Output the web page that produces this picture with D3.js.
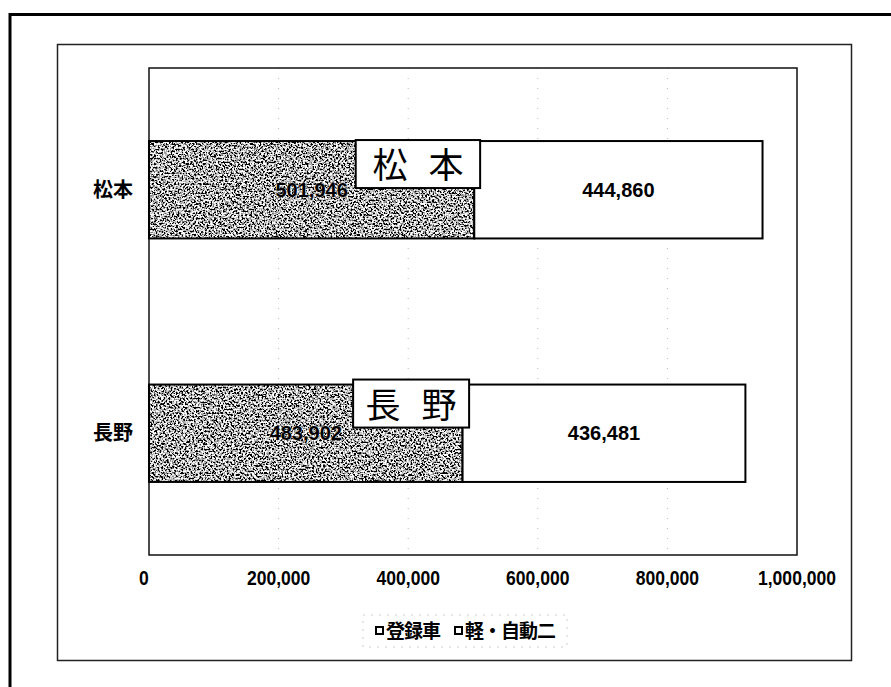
<!DOCTYPE html>
<html><head><meta charset="utf-8">
<script src="https://cdn.jsdelivr.net/npm/d3@7"></script>
<style>
html,body{margin:0;padding:0;background:#fff;}
svg{display:block;}
</style></head>
<body>
<svg id="c" width="891" height="687"></svg>
<script>
// ---- data ----
const categories = ["松本", "長野"];
const seriesNames = ["登録車", "軽・自動二"];
const registered = [501946, 483902];   // 登録車
const kei = [444860, 436481];          // 軽・自動二
const tickValues = [0, 200000, 400000, 600000, 800000, 1000000];
const boxLabels = ["松本", "長野"];
const boxStart = [319000, 315000];
const boxEnd = [511000, 494000];

const svg = d3.select("#c");
const W = 891, H = 687;
const plot = {l:149, r:797, t:68, b:555};

// texture filter
const defs = svg.append("defs");
const f = defs.append("filter").attr("id","noise").attr("x",0).attr("y",0).attr("width",1).attr("height",1);
f.append("feTurbulence").attr("type","fractalNoise").attr("baseFrequency","0.55").attr("numOctaves",2).attr("seed",7).attr("result","t");
f.append("feColorMatrix").attr("in","t").attr("type","matrix")
 .attr("values","4.5 0 0 0 -1.8  4.5 0 0 0 -1.8  4.5 0 0 0 -1.8  0 0 0 0 1").attr("result","g");
f.append("feComposite").attr("in","g").attr("in2","SourceGraphic").attr("operator","in");

// outer frames
svg.append("path").attr("d",`M10,${H} V14.5 H${W}`).attr("fill","none").attr("stroke","#000").attr("stroke-width",3);
svg.append("rect").attr("x",57.5).attr("y",44.5).attr("width",794).attr("height",616)
  .attr("fill","none").attr("stroke","#222").attr("stroke-width",1.5);

const x = d3.scaleLinear().domain([0,1000000]).range([plot.l, plot.r]);
const y = d3.scaleBand().domain(categories).range([plot.t, plot.b]).paddingInner(0.6).paddingOuter(0.3);

// gridlines
svg.append("g").selectAll("line").data(tickValues.slice(1,-1)).join("line")
  .attr("x1",d=>x(d)).attr("x2",d=>x(d)).attr("y1",plot.t).attr("y2",plot.b)
  .attr("stroke","#bbb").attr("stroke-width",1).attr("stroke-dasharray","1,9");

// plot area border
svg.append("rect").attr("x",plot.l).attr("y",plot.t).attr("width",plot.r-plot.l).attr("height",plot.b-plot.t)
  .attr("fill","none").attr("stroke","#111").attr("stroke-width",1.5);

const fmt = d3.format(",");
const rows = categories.map((c,i)=>({c, a:registered[i], b:kei[i], box:boxLabels[i], bs:boxStart[i], be:boxEnd[i]}));

const g = svg.append("g");
// gray segment
g.selectAll("rect.a").data(rows).join("rect").attr("class","a")
  .attr("x",x(0)).attr("y",d=>y(d.c)).attr("width",d=>x(d.a)-x(0)).attr("height",y.bandwidth())
  .attr("fill","#888").attr("filter","url(#noise)");
g.selectAll("rect.ao").data(rows).join("rect").attr("class","ao")
  .attr("x",x(0)).attr("y",d=>y(d.c)).attr("width",d=>x(d.a)-x(0)).attr("height",y.bandwidth())
  .attr("fill","none").attr("stroke","#000").attr("stroke-width",2);
// white segment
g.selectAll("rect.b").data(rows).join("rect").attr("class","b")
  .attr("x",d=>x(d.a)).attr("y",d=>y(d.c)).attr("width",d=>x(d.a+d.b)-x(d.a)).attr("height",y.bandwidth())
  .attr("fill","#fff").attr("stroke","#000").attr("stroke-width",2);

// value labels
const numFont = "'Liberation Sans',Arial,sans-serif";
g.selectAll("text.va").data(rows).join("text")
  .attr("x",d=>(x(0)+x(d.a))/2).attr("y",d=>y(d.c)+y.bandwidth()/2+7)
  .attr("text-anchor","middle").attr("font-family",numFont).attr("font-weight","bold").attr("font-size",20)
  .attr("fill","#000").attr("stroke","#fff").attr("stroke-width",0.6).attr("paint-order","stroke").text(d=>fmt(d.a));
g.selectAll("text.vb").data(rows).join("text")
  .attr("x",d=>(x(d.a)+x(d.a+d.b))/2).attr("y",d=>y(d.c)+y.bandwidth()/2+7)
  .attr("text-anchor","middle").attr("font-family",numFont).attr("font-weight","bold").attr("font-size",20)
  .attr("fill","#000").text(d=>fmt(d.b));

// annotation boxes
const bh = 48;
const boxTop = (d,i)=>y(d.c)-(i?4:0)-1;
g.selectAll("rect.box").data(rows).join("rect")
  .attr("x",d=>x(d.bs)).attr("y",boxTop).attr("width",d=>x(d.be)-x(d.bs)).attr("height",bh)
  .attr("fill","#fff").attr("stroke","#000").attr("stroke-width",2);
rows.forEach((d,i)=>{
  const cx = (x(d.bs)+x(d.be))/2;
  Array.from(d.box).forEach((ch,j)=>{
    g.append("text").attr("x",cx+(j?28:-28)).attr("y",boxTop(d,i)+38)
      .attr("text-anchor","middle").attr("font-family","'Noto Sans CJK JP',sans-serif").attr("font-size",35)
      .attr("fill","#000").text(ch);
  });
});

// category labels
svg.append("g").selectAll("text").data(categories).join("text")
  .attr("x",133).attr("y",d=>y(d)+y.bandwidth()/2+7)
  .attr("text-anchor","end").attr("font-family","'Noto Sans CJK JP',sans-serif").attr("font-weight","bold").attr("font-size",20)
  .text(d=>d);

// x axis labels
svg.append("g").selectAll("text").data(tickValues).join("text")
  .attr("transform",d=>`translate(${x(d)-(d===0?5:0)},585) scale(0.9,1)`)
  .attr("text-anchor","middle").attr("font-family",numFont).attr("font-weight","bold").attr("font-size",19.5)
  .text(d=>fmt(d));

// legend
const lg = svg.append("g");
lg.append("rect").attr("x",363).attr("y",615).attr("width",204).attr("height",32)
  .attr("fill","none").attr("stroke","#ccc").attr("stroke-width",1).attr("stroke-dasharray","2,6");
const lx = [375, 454];
const lgItems = lg.selectAll("g").data(seriesNames).join("g").attr("transform",(d,i)=>`translate(${lx[i]},631)`);
lgItems.append("rect").attr("x",1).attr("y",-4).attr("width",7).attr("height",7).attr("fill","#fff").attr("stroke","#000").attr("stroke-width",2);
lgItems.append("text").attr("x",11).attr("y",7).attr("font-family","'Noto Sans CJK JP',sans-serif").attr("font-weight","bold").attr("font-size",19)
  .attr("letter-spacing",-1).text(d=>d);
</script>
</body></html>
